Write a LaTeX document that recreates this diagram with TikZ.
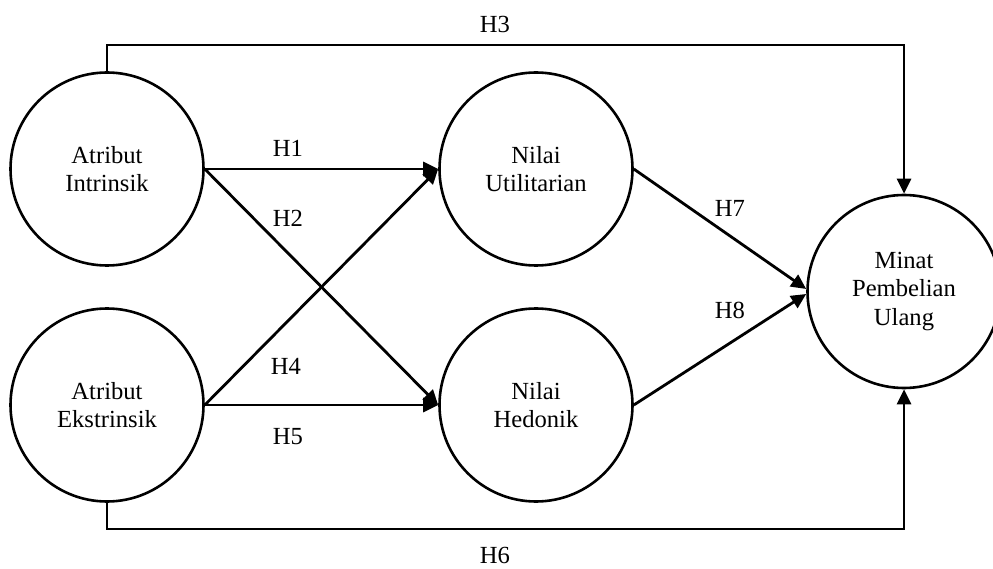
\documentclass[tikz,border=0pt]{standalone}
\usepackage{fontspec}
\setmainfont{Liberation Serif}
\usetikzlibrary{arrows.meta}
\begin{document}
\begin{tikzpicture}[x=1pt,y=-1pt,
  construct/.style={draw,circle,line width=2.6pt,minimum size=193pt,inner sep=0pt,
    align=center,font=\fontsize{24.6}{28.3}\selectfont},
  hlabel/.style={inner sep=0pt,font=\fontsize{24.6}{28.3}\selectfont},
  arr/.style={line width=2.8pt,-{Triangle[length=15pt,width=14pt]}},
  link/.style={line width=2.8pt}]
\path[use as bounding box] (0,0) rectangle (993,569);

% constructs
\node[construct] (ai) at (107,169) {Atribut\\Intrinsik};
\node[construct] (ae) at (107,405) {Atribut\\Ekstrinsik};
\node[construct] (nu) at (536,169) {Nilai\\Utilitarian};
\node[construct] (nh) at (536,405) {Nilai\\Hedonik};
\node[construct] (mpu) at (904,291.5) {Minat\\Pembelian\\Ulang};

% corner points of the outer paths
\coordinate (t3) at (500,45);
\coordinate (b6) at (500,529);

% paths
\draw[arr] (ai.east) -- (nu.west);
\draw[arr] (ai.east) -- (nh.west);
\draw[arr] (ae.east) -- (nu.west);
\draw[arr] (ae.east) -- (nh.west);
\draw[arr] (nu.east) -- ([yshift=2.5pt]mpu.west);
\draw[arr] (nh.east) -- ([yshift=-2.5pt]mpu.west);
\draw[arr] (ai.north) |- (t3) -| (mpu.north);
\draw[arr] (ae.south) |- (b6) -| (mpu.south);

% hypothesis labels
\node[hlabel] (h1) at (288,148) {H1};
\node[hlabel] (h2) at (288,218) {H2};
\node[hlabel] (h3) at (495,24) {H3};
\node[hlabel] (h4) at (286,366) {H4};
\node[hlabel] (h5) at (288,437) {H5};
\node[hlabel] (h6) at (495,555) {H6};
\node[hlabel] (h7) at (730,208) {H7};
\node[hlabel] (h8) at (730,310) {H8};
\end{tikzpicture}
\end{document}
